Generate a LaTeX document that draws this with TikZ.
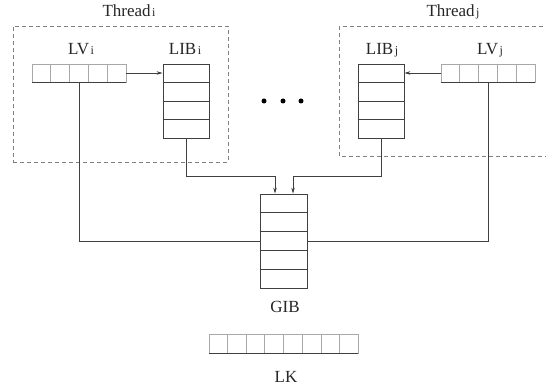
\documentclass[tikz,border=0pt]{standalone}
\usepackage{fontspec}
\setmainfont{Liberation Serif}
\usetikzlibrary{arrows.meta,calc}
\definecolor{linec}{HTML}{404040}
\definecolor{cellc}{HTML}{A8A8A8}
\definecolor{dashc}{HTML}{808080}
\newcommand\sbs[1]{\kern1.5pt{\fontsize{12}{12}\selectfont #1}}
\begin{document}
\begin{tikzpicture}[x=1pt,y=-1pt,
  lbl/.style={font=\fontsize{17}{20}\selectfont, anchor=base, inner sep=0pt, text=black!85},
  stackbox/.style={draw=linec, line width=0.8pt, minimum width=46pt, inner sep=0pt},
  vecbox/.style={draw=cellc, line width=0.8pt, minimum height=18pt, inner sep=0pt},
  threadbox/.style={draw=dashc, line width=0.7pt, dash pattern=on 4pt off 3pt, inner sep=0pt},
  conn/.style={draw=linec, line width=0.8pt},
  arr/.style={conn, -{Stealth[length=6pt,width=3.5pt]}},
  dot/.style={circle, fill=black, inner sep=0pt, minimum size=5pt}
]
\clip (0,0) rectangle (546,390);
\fill[white] (0,0) rectangle (546,390);

% thread boxes
\node[threadbox, minimum width=215pt, minimum height=136pt] (Ti) at (120.5,94) {};
\draw[threadbox] (339,26) rectangle (570,156);
\coordinate (Tj) at (339,26);

% labels
\node[lbl] (tl1) at (129,17) {Thread\sbs{i}};
\node[lbl] (tl2) at (453,17) {Thread\sbs{j}};
\node[lbl] (lvl1) at (81,55) {LV\sbs{i}};
\node[lbl] (libl1) at (185,55) {LIB\sbs{i}};
\node[lbl] (libl2) at (382,55) {LIB\sbs{j}};
\node[lbl] (lvl2) at (490,55) {LV\sbs{j}};
\node[lbl] (gibl) at (285,312) {GIB};
\node[lbl] (lkl) at (286,382) {LK};

% LV i
\node[vecbox, minimum width=94pt] (LVi) at (79,73) {};
\foreach \k in {1,...,4}{
  \draw[cellc, line width=0.8pt] ($(LVi.north west)!\k/5!(LVi.north east)$) -- ($(LVi.south west)!\k/5!(LVi.south east)$);}
\draw[linec, line width=0.8pt] (LVi.south west) -- (LVi.south east);

% LV j
\node[vecbox, minimum width=94pt] (LVj) at (488,73) {};
\foreach \k in {1,...,4}{
  \draw[cellc, line width=0.8pt] ($(LVj.north west)!\k/5!(LVj.north east)$) -- ($(LVj.south west)!\k/5!(LVj.south east)$);}
\draw[linec, line width=0.8pt] (LVj.south west) -- (LVj.south east);

% LIB i
\node[stackbox, minimum height=74pt] (LIBi) at (186,101) {};
\foreach \k in {1,...,3}{
  \draw[linec, line width=0.8pt] ($(LIBi.north west)!\k/4!(LIBi.south west)$) -- ($(LIBi.north east)!\k/4!(LIBi.south east)$);}

% LIB j
\node[stackbox, minimum height=74pt] (LIBj) at (381,101) {};
\foreach \k in {1,...,3}{
  \draw[linec, line width=0.8pt] ($(LIBj.north west)!\k/4!(LIBj.south west)$) -- ($(LIBj.north east)!\k/4!(LIBj.south east)$);}

% GIB
\node[stackbox, minimum width=47pt, minimum height=94pt] (GIB) at (283.5,241) {};
\foreach \k in {1,...,4}{
  \draw[linec, line width=0.8pt] ($(GIB.north west)!\k/5!(GIB.south west)$) -- ($(GIB.north east)!\k/5!(GIB.south east)$);}

% LK
\node[vecbox, minimum width=149pt, minimum height=19pt] (LK) at (283.5,343.5) {};
\foreach \k in {1,...,7}{
  \draw[cellc, line width=0.8pt] ($(LK.north west)!\k/8!(LK.north east)$) -- ($(LK.south west)!\k/8!(LK.south east)$);}
\draw[linec, line width=0.8pt] (LK.south west) -- (LK.south east);

% dots
\node[dot] (d1) at (264,101) {};
\node[dot] (d2) at (283,101) {};
\node[dot] (d3) at (301,101) {};

% connectors
\coordinate (gin1) at ($(GIB.north)+(-8.5,0)$);
\coordinate (gin2) at ($(GIB.north)+(9.5,0)$);
\draw[arr] (LVi.east) -- (LVi.east -| LIBi.west);
\draw[arr] (LVj.west) -- (LVj.west -| LIBj.east);
\draw[arr] (LIBi.south) -- ++(0,38) -| (gin1);
\draw[arr] (LIBj.south) -- ++(0,38) -| (gin2);
\draw[conn] (LVi.south) |- (GIB.west);
\draw[conn] (LVj.south) |- (GIB.east);
\end{tikzpicture}
\end{document}
